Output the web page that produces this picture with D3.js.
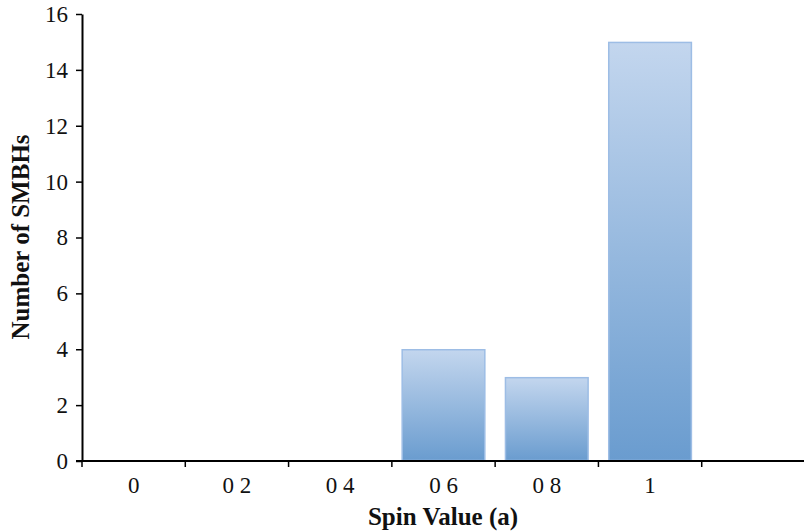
<!DOCTYPE html>
<html>
<head>
<meta charset="utf-8">
<script src="https://cdn.jsdelivr.net/npm/d3@7"></script>
<style>
  body { margin: 0; background: #fff; }
  text { font-family: "Liberation Serif", "Times New Roman", serif; }
</style>
</head>
<body>
<div id="chart"></div>
<script>
// categories shown on the x axis (decimal points are missing in the original)
const categories = ["0", "0 2", "0 4", "0 6", "0 8", "1", ""];
const counts = [0, 0, 0, 4, 3, 15, 0];
const yTicks = [0, 2, 4, 6, 8, 10, 12, 14, 16];

const width = 804, height = 531;
const margin = { top: 14, right: 0, bottom: 70, left: 82 };

const svg = d3.select("#chart")
    .append("svg")
    .attr("width", width)
    .attr("height", height);

const defs = svg.append("defs");
const grad = defs.append("linearGradient")
    .attr("id", "barGrad")
    .attr("x1", 0).attr("y1", 0)
    .attr("x2", 0).attr("y2", 1);
grad.append("stop").attr("offset", "0%").attr("stop-color", "#c3d6ee");
grad.append("stop").attr("offset", "100%").attr("stop-color", "#6a9ccf");

const x = d3.scaleBand()
    .domain(categories.map((d, i) => i))
    .range([margin.left, 805])
    .paddingInner(0.19)
    .paddingOuter(0.095);

// band positions for ticks (no padding)
const xTick = d3.scaleBand()
    .domain(categories.map((d, i) => i))
    .range([margin.left, 805]);

const y = d3.scaleLinear()
    .domain([0, 16])
    .range([461, margin.top]);

const data = categories.map((c, i) => ({ i: i, label: c, value: counts[i] }));

// bars
svg.append("g")
    .selectAll("rect")
    .data(data.filter(d => d.value > 0))
    .join("rect")
    .attr("x", d => x(d.i) + 0.5)
    .attr("y", d => y(d.value) + 0.5)
    .attr("width", x.bandwidth() - 1)
    .attr("height", d => y(0) - y(d.value) - 1)
    .attr("fill", "url(#barGrad)")
    .attr("stroke", "#9dbde5")
    .attr("stroke-width", 1.5);

// y axis
const yAxis = svg.append("g")
    .attr("transform", `translate(${margin.left},0)`)
    .call(d3.axisLeft(y).tickValues(yTicks).tickSize(6).tickSizeOuter(0).tickPadding(8));
yAxis.select(".domain").attr("stroke", "#000").attr("stroke-width", 2);
yAxis.selectAll(".tick line").attr("stroke", "#000").attr("stroke-width", 1.5);
yAxis.selectAll(".tick text")
    .attr("font-size", 23)
    .attr("font-family", "Liberation Serif, serif")
    .attr("fill", "#111");

// x axis line
svg.append("line")
    .attr("x1", margin.left - 6).attr("x2", width)
    .attr("y1", y(0)).attr("y2", y(0))
    .attr("stroke", "#000").attr("stroke-width", 2);

// x ticks at band boundaries
svg.append("g")
    .selectAll("line")
    .data(data)
    .join("line")
    .attr("x1", d => xTick(d.i)).attr("x2", d => xTick(d.i))
    .attr("y1", y(0)).attr("y2", y(0) + 6)
    .attr("stroke", "#000").attr("stroke-width", 1.5);

// x tick labels
svg.append("g")
    .selectAll("text")
    .data(data)
    .join("text")
    .attr("x", d => xTick(d.i) + xTick.bandwidth() / 2)
    .attr("y", 493)
    .attr("text-anchor", "middle")
    .attr("font-size", 23)
    .attr("fill", "#111")
    .text(d => d.label);

// axis titles
svg.append("text")
    .attr("x", 443)
    .attr("y", 525)
    .attr("text-anchor", "middle")
    .attr("font-size", 25)
    .attr("font-weight", "bold")
    .attr("fill", "#111")
    .text("Spin Value (a)");

svg.append("text")
    .attr("transform", "translate(29,237) rotate(-90)")
    .attr("text-anchor", "middle")
    .attr("font-size", 25)
    .attr("font-weight", "bold")
    .attr("fill", "#111")
    .text("Number of SMBHs");
</script>
</body>
</html>
